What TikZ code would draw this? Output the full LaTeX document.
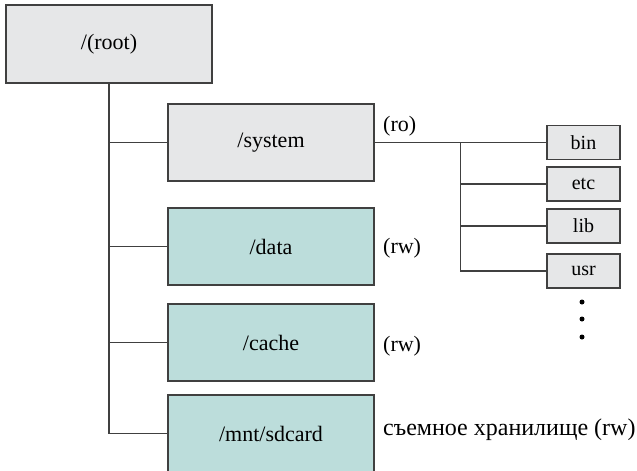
\documentclass[tikz,border=0pt]{standalone}
\usepackage{fontspec}
\setmainfont{Liberation Serif}
\definecolor{boxgray}{RGB}{230,231,232}
\definecolor{boxteal}{RGB}{188,221,219}
\definecolor{edgegray}{RGB}{64,64,64}
\begin{document}
\begin{tikzpicture}[x=1pt,y=-1pt,
  bigbox/.style={draw=edgegray,line width=1.4pt,minimum width=206pt,minimum height=77pt,inner sep=0pt,font=\fontsize{22}{26}\selectfont},
  graybox/.style={bigbox,fill=boxgray},
  tealbox/.style={bigbox,fill=boxteal},
  smallbox/.style={draw=edgegray,line width=1.4pt,fill=boxgray,minimum width=73pt,minimum height=34pt,inner sep=0pt,font=\fontsize{20}{24}\selectfont},
  lbl/.style={anchor=west,inner sep=0pt,font=\fontsize{22}{26}\selectfont},
  dotmark/.style={circle,fill=black,inner sep=0pt,minimum size=5pt},
  conn/.style={draw=edgegray,line width=1.4pt}]
\useasboundingbox (0,0) rectangle (637,471);
\node[graybox,minimum height=78pt] (root) at (109,44) {/(root)};
\node[graybox] (sys) at (271,142.5) {/system};
\node[tealbox] (data) at (271,246.5) {/data};
\node[tealbox] (cache) at (271,342.5) {/cache};
\node[tealbox] (sd) at (271,433.5) {/mnt/sdcard};
\node[smallbox] (bin) at (583.5,142.5) {bin};
\node[smallbox] (etc) at (583.5,184) {etc};
\node[smallbox] (lib) at (583.5,226) {lib};
\node[smallbox] (usr) at (583.5,271) {usr};
\node[lbl] (ro) at (383,126) {(ro)};
\node[lbl] (rw1) at (383,248) {(rw)};
\node[lbl] (rw2) at (383,346) {(rw)};
\node[lbl,font=\fontsize{24}{28}\selectfont] (rm) at (383,430) {съемное хранилище (rw)};
\node[dotmark] (d1) at (582,302) {};
\node[dotmark] (d2) at (582,319) {};
\node[dotmark] (d3) at (582,337) {};
\coordinate (br) at (460.7,142.5);
\draw[conn] (root.south) |- (sys.west);
\draw[conn] (root.south) |- (data.west);
\draw[conn] (root.south) |- (cache.west);
\draw[conn] (root.south) |- (sd.west);
\draw[conn] (sys.east) -- (bin.west);
\draw[conn] (br) |- (etc.west);
\draw[conn] (br) |- (lib.west);
\draw[conn] (br) |- (usr.west);
\end{tikzpicture}
\end{document}
